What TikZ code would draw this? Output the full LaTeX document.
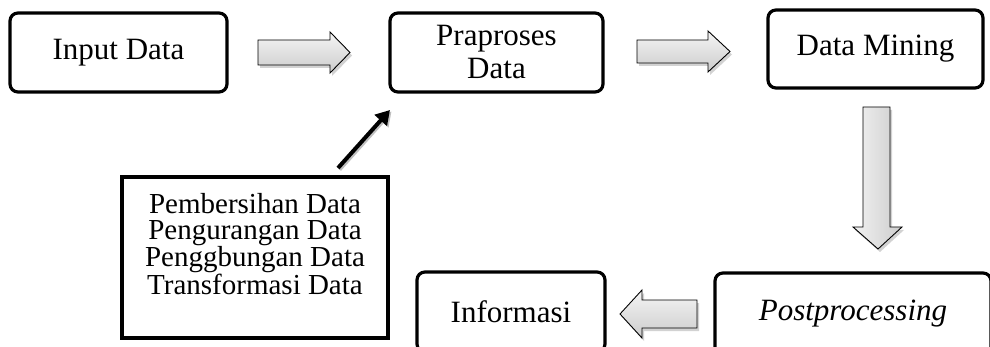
\documentclass[tikz,border=0pt]{standalone}
\usepackage{fontspec}
\setmainfont{Liberation Serif}
\usetikzlibrary{arrows.meta,shadows}
\begin{document}
\begin{tikzpicture}[x=1pt,y=-1pt,
  rbox/.style={draw=black,line width=3.2pt,rounded corners=8pt,fill=white,align=center,
    font=\fontsize{31}{33}\selectfont,inner sep=0pt},
  fbbox/.style={draw=black,line width=4.5pt,fill=white,inner sep=0pt},
  fbtext/.style={align=center,font=\fontsize{29}{26}\selectfont,inner sep=0pt},
  blockarrow/.style={draw=black,line width=0.9pt,line join=miter,
    top color=gray!8,bottom color=gray!40,
    drop shadow={opacity=0.35,shadow xshift=2pt,shadow yshift=-3pt}},
  blockarrowv/.style={draw=black,line width=0.9pt,line join=miter,
    left color=gray!10,right color=gray!40,
    drop shadow={opacity=0.35,shadow xshift=2pt,shadow yshift=-3pt}},
  darrow/.style={line width=4pt,-{Triangle[length=14pt,width=16pt]},
    preaction={draw=gray!50,line width=4pt,transform canvas={xshift=1.5pt,yshift=-1.5pt}}}
]
\clip (0,0) rectangle (990,347);
\fill[white] (0,0) rectangle (990,347);

% boxes
\node[rbox,minimum width=217pt,minimum height=79pt] (in) at (118.5,52.5) {Input Data};
\node[rbox,minimum width=213pt,minimum height=79pt] (pp) at (496.5,52.5) {Praproses\\Data};
\node[rbox,minimum width=215pt,minimum height=78pt] (dm) at (875.5,49) {Data Mining};
\node[rbox,minimum width=276pt,minimum height=82pt] (post) at (853,314) {\itshape Postprocessing};
\node[rbox,minimum width=188pt,minimum height=80pt] (inf) at (511,312) {Informasi};
\node[fbbox,minimum width=266pt,minimum height=161pt] (fb) at (255,257.5) {};
\node[fbtext,anchor=north] (fbt) at (255,193)
  {Pembersihan Data\\Pengurangan Data\\Penggbungan Data\\Transformasi Data};

% block arrows
\path[blockarrow] (258,40) -- (330,40) -- (330,32) -- (350,52.5) -- (330,73) -- (330,65) -- (258,65) -- cycle;
\path[blockarrow] (637,40) -- (708,40) -- (708,31) -- (730,51.5) -- (708,72) -- (708,63) -- (637,63) -- cycle;
\path[blockarrowv] (863,107) -- (890,107) -- (890,227) -- (902,227) -- (878,249) -- (853,227) -- (863,227) -- cycle;
\path[blockarrow] (697,300) -- (642,300) -- (642,290) -- (620,314) -- (642,338) -- (642,328) -- (697,328) -- cycle;

% feedback arrow
\coordinate (fbtail) at (338,168);
\coordinate (pptip) at (390,110);
\draw[darrow] (fbtail) -- (pptip);
\end{tikzpicture}
\end{document}
